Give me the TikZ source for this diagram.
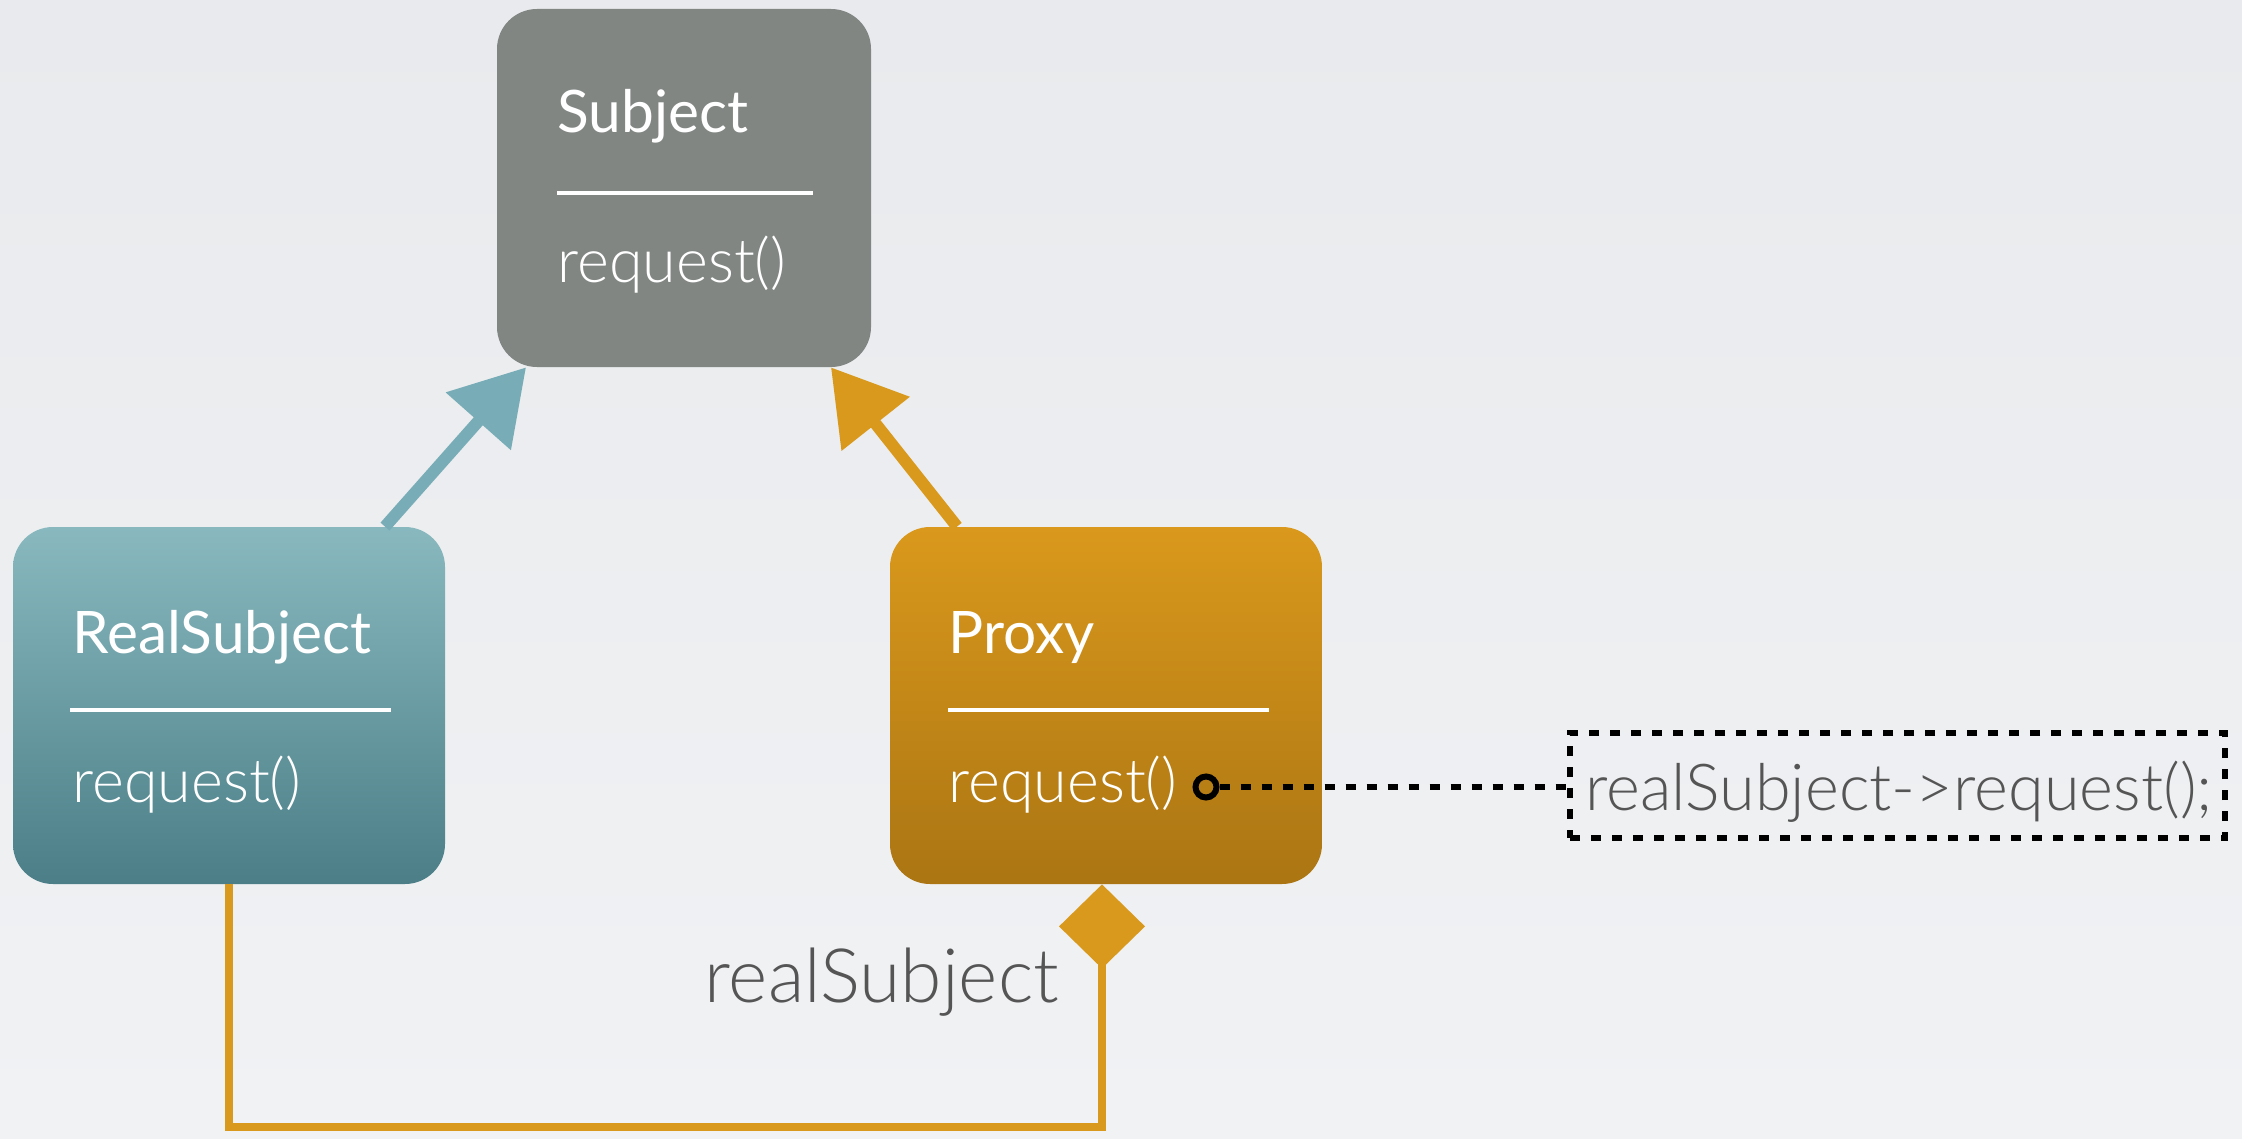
\documentclass[tikz,border=0pt]{standalone}
\usepackage{fontspec}
\newfontfamily\lightfont{Lato Light}
\newfontfamily\regfont{Lato}
\usetikzlibrary{arrows.meta,calc}
\definecolor{bgtop}{HTML}{E8EAED}
\definecolor{bgbot}{HTML}{F1F2F4}
\definecolor{subjgray}{HTML}{818683}
\definecolor{tealtop}{HTML}{89B9BF}
\definecolor{tealbot}{HTML}{4B7E87}
\definecolor{ambertop}{HTML}{DA991C}
\definecolor{amberbot}{HTML}{AB7513}
\definecolor{arrowblue}{HTML}{78ADB7}
\definecolor{arrowamber}{HTML}{D9991D}
\definecolor{codegray}{HTML}{555555}
\tikzset{
  classbox/.style={rounded corners=20pt, inner sep=0pt, draw=none},
  classname/.style={anchor=base west, inner sep=0pt, text=white,
    font=\regfont\fontsize{29.3}{33}\selectfont},
  classop/.style={anchor=base west, inner sep=0pt, text=white,
    font=\lightfont\fontsize{30.5}{34}\selectfont},
  divider/.style={white, line width=1.7pt},
  inherit/.style={line width=6pt, line cap=butt},
  assoc/.style={draw=arrowamber, line width=4pt, line join=miter},
  dots/.style={line width=3pt, dash pattern=on 5pt off 5.5pt},
}
\begin{document}
\begin{tikzpicture}[x=0.5pt,y=-0.5pt]
% page background
\fill[top color=bgtop, bottom color=bgbot] (0,0) rectangle (2242,1139);
\useasboundingbox (0,0) rectangle (2242,1139);

% class boxes
\node[classbox, fill=subjgray, minimum width=187pt, minimum height=179pt] (subject) at (684,188) {};
\node[classbox, top color=tealtop, bottom color=tealbot, minimum width=216pt, minimum height=178.5pt] (real) at (229,705.5) {};
\node[classbox, top color=ambertop, bottom color=amberbot, minimum width=216pt, minimum height=178.5pt] (proxy) at (1106,705.5) {};

% Subject
\node[classname] (subjName) at (557,133) {Subject};
\draw[divider] (557,193) -- (813,193);
\node[classop] (subjOp) at (557,283) {request()};

% RealSubject
\node[classname] (realName) at (72,653) {RealSubject};
\draw[divider] (70,710) -- (391,710);
\node[classop] (realOp) at (72,802) {request()};

% Proxy
\node[classname] (proxyName) at (948,653) {Proxy};
\draw[divider] (948,710) -- (1269,710);
\node[classop] (proxyOp) at (948,802) {request()};

% generalisation arrows
\coordinate (realTop) at ([xshift=78pt]real.north);
\coordinate (subjLeft) at ([xshift=-79pt]subject.south);
\coordinate (proxyTop) at ([xshift=-74.5pt]proxy.north);
\coordinate (subjRight) at ([xshift=73.5pt]subject.south);
\draw[inherit, draw=arrowblue, -{Triangle[length=36pt,width=42pt,fill=arrowblue]}] (realTop) -- (subjLeft);
\draw[inherit, draw=arrowamber, -{Triangle[length=36pt,width=42pt,fill=arrowamber]}] (proxyTop) -- (subjRight);

% aggregation: Proxy holds a realSubject
\coordinate (diamondTip) at ([xshift=-2pt]proxy.south);
\coordinate (bend) at (diamondTip |- 0,1127);
\draw[assoc, -{Diamond[length=42pt,width=43pt,fill=arrowamber]}] (real.south) |- (bend) -- (diamondTip);
\node[anchor=base west, inner sep=0pt, text=codegray, font=\lightfont\fontsize{37.5}{41}\selectfont] (roleName) at (704,1002) {realSubject};

% note attached to Proxy::request()
\node[circle, draw=black, line width=3pt, minimum size=10.5pt, inner sep=0pt] (dot) at (1206,787) {};
\node[draw=black, dots, minimum width=327.5pt, minimum height=52.5pt, inner sep=0pt] (code) at (1897.5,785.5) {};
\node[anchor=base west, inner sep=0pt, text=codegray, font=\lightfont\fontsize{32.4}{36}\selectfont] (codeText) at (1585,810) {realSubject->request();};
\draw[dots] (dot.east) -- (dot.east -| code.west);
\end{tikzpicture}
\end{document}
